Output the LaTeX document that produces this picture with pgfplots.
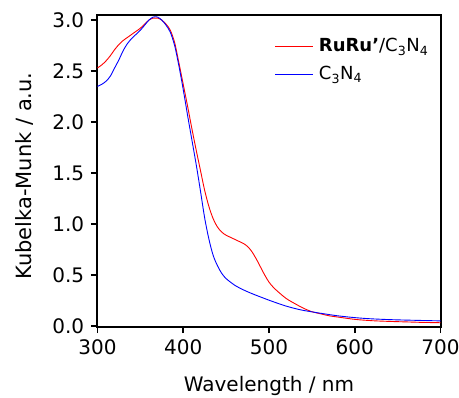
\documentclass[border=0pt]{standalone}
\usepackage{fontspec}
\setmainfont{DejaVu Sans}
\usepackage{pgfplots}
\pgfplotsset{compat=1.18}
\begin{document}
\fontsize{20}{24}\selectfont
\begin{tikzpicture}
\begin{axis}[
 scale only axis, width=344pt, height=312pt,
 xmin=299.5, xmax=700.5, ymin=-0.01, ymax=3.05,
 axis line style={line width=1.6pt},
 xtick={300,400,...,700}, ytick={0,0.5,...,3.0},
 tick align=outside, tick style={line width=1.6pt, black}, major tick length=6pt,
 xtick pos=bottom, ytick pos=left,
 yticklabel style={/pgf/number format/.cd, fixed, fixed zerofill, precision=1},
 /pgf/number format/assume math mode=true,
 ticklabel style={font=\fontsize{20}{24}\selectfont},
 label style={font=\fontsize{20}{24}\selectfont},
 xlabel={Wavelength / nm}, ylabel={Kubelka-Munk / a.u.},
 xlabel style={at={(axis description cs:0.5,-0.2083)}, anchor=base},
 ylabel style={at={(axis description cs:-0.189,0.484)}, anchor=base, font=\fontsize{21}{25}\selectfont},
 legend style={draw=none, fill=none, at={(axis description cs:0.517,0.932)}, anchor=north west, inner sep=0pt, font=\fontsize{18}{21}\selectfont, row sep=7.5pt},
 legend cell align=left,
 legend image code/.code={\draw[#1] (0pt,0pt) -- (37pt,0pt); \path (41pt,0pt);},
]
\addplot[red, line width=0.9pt, smooth] coordinates {
(300,2.53) (305,2.56) (310,2.60) (315,2.65) (320,2.71) (325,2.76) (330,2.80) (335,2.83) (340,2.86) (345,2.89) (350,2.92) (355,2.96) (360,3.00) (365,3.02) (370,3.02) (375,3.00)
(380,2.96) (385,2.90) (390,2.78) (395,2.58) (400,2.37) (405,2.16) (410,1.94) (415,1.73) (420,1.53) (425,1.33) (430,1.17) (435,1.05) (440,0.97) (445,0.92) (450,0.89) (455,0.87) (460,0.85) (465,0.83) (470,0.81) (475,0.78) (480,0.73) (485,0.66) (490,0.58) (495,0.50) (500,0.43) (505,0.38) (510,0.34) (520,0.27) (530,0.22) (540,0.175) (550,0.14) (560,0.12) (570,0.10) (580,0.088) (600,0.065) (620,0.052) (640,0.045) (660,0.04) (680,0.035) (700,0.032)
};
\addlegendentry{\textbf{RuRu’}/C\textsubscript{3}N\textsubscript{4}}
\addplot[blue, line width=0.9pt, smooth] coordinates {
(300,2.35) (305,2.37) (310,2.40) (315,2.45) (320,2.53) (325,2.61) (330,2.70) (335,2.77) (340,2.82) (345,2.86) (350,2.90) (355,2.95) (360,3.00) (365,3.03) (370,3.03) (375,3.00) (380,2.95) (385,2.88) (390,2.75) (395,2.55) (400,2.32) (405,2.07) (410,1.83) (415,1.59) (420,1.33) (425,1.06) (430,0.85) (435,0.69) (440,0.59) (445,0.515) (450,0.465) (460,0.40) (470,0.355) (480,0.318) (490,0.285) (500,0.253) (510,0.223) (520,0.195) (530,0.172) (540,0.153) (560,0.125) (580,0.10) (600,0.082) (620,0.07) (650,0.06) (700,0.05)
};
\addlegendentry{C\textsubscript{3}N\textsubscript{4}}
\end{axis}
\pgfresetboundingbox
\path[use as bounding box] ([shift={(-97pt,-70pt)}]current axis.south west) rectangle ([shift={(18pt,15pt)}]current axis.north east);
\end{tikzpicture}
\end{document}
